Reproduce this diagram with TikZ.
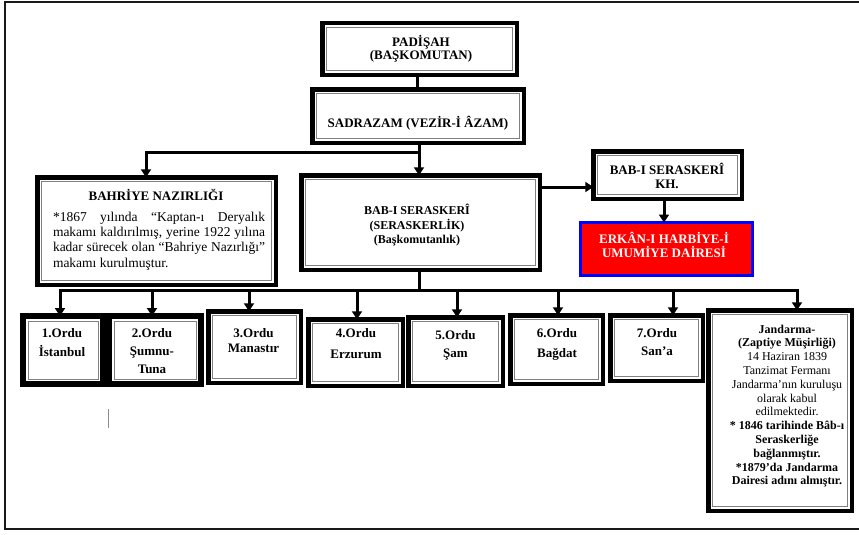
\documentclass[tikz,border=0pt]{standalone}
\usepackage{fontspec}
\setmainfont{Liberation Serif}
\usetikzlibrary{arrows.meta}
\begin{document}
\begin{tikzpicture}[x=1pt,y=-1pt,
  box/.style={rectangle, draw=black, line width=4.5pt, fill=white, inner sep=0pt, outer sep=0pt},
  redbox/.style={rectangle, draw=blue, line width=3pt, fill=red, inner sep=0pt, outer sep=0pt},
  innerline/.style={draw=black!50, line width=1pt},
  conn/.style={line width=3pt},
  arr/.style={line width=3pt, -{Triangle[width=10pt,length=8pt]}},
  tb/.style={align=center, inner sep=0pt, font=\bfseries\fontsize{13}{14}\selectfont},
  tr/.style={align=center, inner sep=0pt, font=\fontsize{12}{13.8}\selectfont}
]
\useasboundingbox (0,0) rectangle (859,535);
% outer frame
\draw[line width=2.2pt, black!90] (860,2) -- (5,2) -- (5,529) -- (860,529);

% boxes
\node[box, minimum width=194.5pt, minimum height=51.5pt] (pad) at (419.5,49) {};
\node[box, minimum width=211.5pt, minimum height=53.5pt] (sad) at (418,116) {};
\node[box, minimum width=238.5pt, minimum height=107.5pt] (bah) at (156.5,231) {};
\node[box, minimum width=238.5pt, minimum height=94.5pt] (bab) at (420.5,222.5) {};
\node[box, minimum width=148.5pt, minimum height=47.5pt] (kh) at (667.5,175) {};
\node[redbox, minimum width=172pt, minimum height=53pt] (red) at (666.5,249) {};
\node[box, line width=6pt, minimum width=80pt, minimum height=68pt] (o1) at (63,350) {};
\node[box, line width=6pt, minimum width=92pt, minimum height=68pt] (o2) at (155,350) {};
\node[box, minimum width=92.5pt, minimum height=71.5pt] (o3) at (254.5,347) {};
\node[box, minimum width=94.5pt, minimum height=66.5pt] (o4) at (355.5,352.5) {};
\node[box, minimum width=94.5pt, minimum height=68.5pt] (o5) at (455.5,351.5) {};
\node[box, minimum width=92.5pt, minimum height=68.5pt] (o6) at (556.5,349.5) {};
\node[box, minimum width=92.5pt, minimum height=65.5pt] (o7) at (656.5,348) {};
\node[box, minimum width=143.5pt, minimum height=200.5pt] (jan) at (780,410.5) {};

\foreach \n in {pad,sad,bah,bab,kh,o3,o4,o5,o6,o7,jan}
  \draw[innerline] ([shift={(4.25pt,4.25pt)}]\n.south west) rectangle ([shift={(-4.25pt,-4.25pt)}]\n.north east);
\foreach \n in {o1,o2}
  \draw[innerline] ([shift={(5pt,5pt)}]\n.south west) rectangle ([shift={(-5pt,-5pt)}]\n.north east);

% texts
\node[tb, font=\bfseries\fontsize{13}{13}\selectfont] (padt) at (421,48.5) {PADİŞAH\\(BAŞKOMUTAN)};
\node[tb] (sadt) at (418,123) {SADRAZAM (VEZİR-İ ÂZAM)};
\node[tb] (baht) at (156,195) {BAHRİYE NAZIRLIĞI};
\node[inner sep=0pt, align=left, font=\fontsize{13.5}{15.3}\selectfont] (bahb) at (159,241)
  {\makebox[212pt][s]{*1867 yılında “Kaptan-ı Deryalık}\\
   \makebox[212pt][s]{makamı kaldırılmış, yerine 1922 yılına}\\
   \makebox[212pt][s]{kadar sürecek olan “Bahriye Nazırlığı”}\\
   makamı kurulmuştur.};
\node[tb, font=\bfseries\fontsize{12}{14.5}\selectfont] (babt) at (417,225.5) {BAB-I SERASKERÎ\\(SERASKERLİK)\\(Başkomutanlık)};
\node[tb] (kht) at (667,176) {BAB-I SERASKERÎ\\KH.};
\node[tb, text=white] (redt) at (664,245) {ERKÂN-I HARBİYE-İ\\UMUMİYE DAİRESİ};

\node[tb, font=\bfseries\fontsize{13}{19}\selectfont] (t1) at (62,342.5) {1.Ordu\\İstanbul};
\node[tb, font=\bfseries\fontsize{13}{18}\selectfont] (t2) at (152,351) {2.Ordu\\Şumnu-\\Tuna};
\node[tb, font=\bfseries\fontsize{13}{15}\selectfont] (t3) at (253.5,340.5) {3.Ordu\\Manastır};
\node[tb, font=\bfseries\fontsize{13}{21}\selectfont] (t4) at (356,343.5) {4.Ordu\\Erzurum};
\node[tb, font=\bfseries\fontsize{13}{18}\selectfont] (t5) at (455.5,345) {5.Ordu\\Şam};
\node[tb, font=\bfseries\fontsize{13}{20}\selectfont] (t6) at (557,344) {6.Ordu\\Bağdat};
\node[tb, font=\bfseries\fontsize{13}{18}\selectfont] (t7) at (657,342) {7.Ordu\\San’a};

\node[tr] (jant) at (787,406)
  {\textbf{Jandarma-}\\
   \textbf{(Zaptiye Müşirliği)}\\
   14 Haziran 1839\\
   Tanzimat Fermanı\\
   Jandarma’nın kuruluşu\\
   olarak kabul\\
   edilmektedir.\\
   \textbf{* 1846 tarihinde Bâb-ı}\\
   \textbf{Seraskerliğe}\\
   \textbf{bağlanmıştır.}\\
   \textbf{*1879’da Jandarma}\\
   \textbf{Dairesi adını almıştır.}};

% connectors
\coordinate (j1) at (419,152);
\coordinate (b1) at (146,152);
\coordinate (k1) at (0,187);
\coordinate (k2) at (664,0);
\coordinate (j2) at (419,290);
\coordinate (l1) at (60,290);
\coordinate (l2) at (152,290);
\coordinate (l3) at (249,290);
\coordinate (l4) at (357,290);
\coordinate (l5) at (457,290);
\coordinate (l6) at (558,290);
\coordinate (l7) at (673,290);
\coordinate (l8) at (797,290);

\draw[conn] (pad.south -| 417,0) -- (sad.north -| 417,0);
\draw[arr] (sad.south -| j1) -- (j1) -- (b1) -- (bah.north -| b1);
\draw[arr] (j1) -- (bab.north -| j1);
\draw[arr] (bab.east |- k1) -- (kh.west |- k1);
\draw[arr] (kh.south -| k2) -- (red.north -| k2);
\draw[arr] (bab.south -| j2) -- (j2) -- (l1) -- (o1.north -| l1);
\draw[arr] (j2) -- (l8) -- (jan.north -| l8);
\draw[arr] (l2) -- (o2.north -| l2);
\draw[arr] (l3) -- (o3.north -| l3);
\draw[arr] (l4) -- (o4.north -| l4);
\draw[arr] (l5) -- (o5.north -| l5);
\draw[arr] (l6) -- (o6.north -| l6);
\draw[arr] (l7) -- (o7.north -| l7);

% text cursor mark
\draw[black!45, line width=1pt] (108,409) -- (108,428);
\end{tikzpicture}
\end{document}
